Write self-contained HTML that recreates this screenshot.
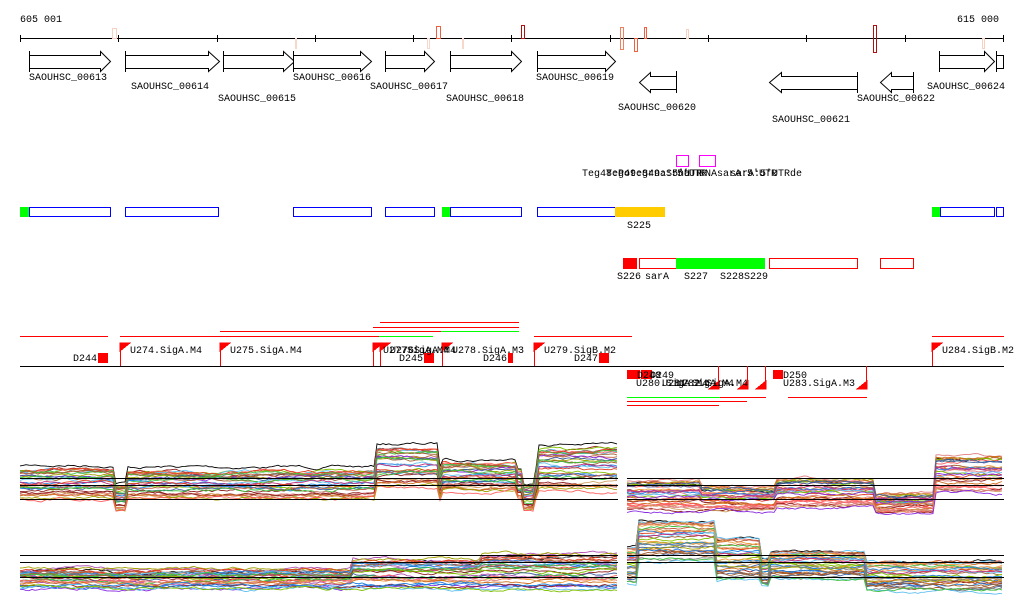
<!DOCTYPE html>
<html><head><meta charset="utf-8"><style>
html,body{margin:0;padding:0;background:#fff;}
svg{display:block;}
text{font-family:"Liberation Mono",monospace;font-size:10px;fill:#000;}
</style></head><body>
<svg id="s" width="1024" height="611" xmlns="http://www.w3.org/2000/svg" shape-rendering="crispEdges">
<text x="20" y="22">605 001</text>
<text x="957" y="22">615 000</text>
<line x1="20" y1="38.5" x2="1004" y2="38.5" stroke="#000"/>
<g stroke="#000">
<line x1="20.5" y1="35" x2="20.5" y2="42"/><line x1="118.5" y1="35" x2="118.5" y2="42"/><line x1="217.5" y1="35" x2="217.5" y2="42"/><line x1="315.5" y1="35" x2="315.5" y2="42"/><line x1="413.5" y1="35" x2="413.5" y2="42"/><line x1="511.5" y1="35" x2="511.5" y2="42"/><line x1="610.5" y1="35" x2="610.5" y2="42"/><line x1="708.5" y1="35" x2="708.5" y2="42"/><line x1="806.5" y1="35" x2="806.5" y2="42"/><line x1="905.5" y1="35" x2="905.5" y2="42"/><line x1="1003.5" y1="35" x2="1003.5" y2="42"/>
</g>
<g fill="none">
<rect x="112.5" y="28.5" width="4" height="10" stroke="#f8d0c0"/>
<rect x="295.5" y="38.5" width="1" height="10" stroke="#f8d8cc"/>
<rect x="427.5" y="38.5" width="2" height="10" stroke="#f8d8cc"/>
<rect x="436.5" y="26.5" width="4" height="12" stroke="#f06040"/>
<rect x="462.5" y="38.5" width="1" height="10" stroke="#f8d8cc"/>
<rect x="521.5" y="25.5" width="3" height="13" stroke="#b01010"/>
<rect x="620.5" y="27.5" width="3" height="22" stroke="#f08060"/>
<rect x="634.5" y="38.5" width="3" height="13" stroke="#f06040"/>
<rect x="644.5" y="27.5" width="2" height="11" stroke="#f06040"/>
<rect x="686.5" y="29.5" width="2" height="9" stroke="#f8d0c0"/>
<rect x="873.5" y="25.5" width="3" height="27" stroke="#b01010"/>
<rect x="982.5" y="38.5" width="2" height="10" stroke="#f8d0c0"/>
</g>
<g fill="#fff" stroke="#000" shape-rendering="auto">
<path d="M29.5 51V72M29.5 55.5H100.5V51.5L110.5 61.5L100.5 71.5V68.5H29.5Z"/>
<path d="M125.5 51V72M125.5 55.5H208.5V51.5L219.5 61.5L208.5 71.5V68.5H125.5Z"/>
<path d="M223.5 51V72M223.5 55.5H283.5V51.5L294.5 61.5L283.5 71.5V68.5H223.5Z"/>
<path d="M293.5 51V72M293.5 55.5H360.5V51.5L371.5 61.5L360.5 71.5V68.5H293.5Z"/>
<path d="M385.5 51V72M385.5 55.5H424.5V51.5L434.5 61.5L424.5 71.5V68.5H385.5Z"/>
<path d="M450.5 51V72M450.5 55.5H511.5V51.5L521.5 61.5L511.5 71.5V68.5H450.5Z"/>
<path d="M537.5 51V72M537.5 55.5H605.5V51.5L615.5 61.5L605.5 71.5V68.5H537.5Z"/>
<path d="M676.5 71V93M676.5 76.5H650.5V72.5L639.5 82.5L650.5 92.5V89.5H676.5Z"/>
<path d="M857.5 72V93M857.5 76.5H781.5V72.5L769.5 82.5L781.5 92.5V89.5H857.5Z"/>
<path d="M913.5 72V93M913.5 76.5H891.5V72.5L880.5 82.5L891.5 92.5V89.5H913.5Z"/>
<path d="M939.5 51V72M939.5 55.5H984.5V51.5L994.5 61.5L984.5 71.5V68.5H939.5Z"/>
<path d="M996.5 51V72M996.5 55.5H1003.5V68.5H996.5"/>
</g>
<text x="29" y="80">SAOUHSC_00613</text>
<text x="131" y="89">SAOUHSC_00614</text>
<text x="218" y="101">SAOUHSC_00615</text>
<text x="293" y="80">SAOUHSC_00616</text>
<text x="370" y="89">SAOUHSC_00617</text>
<text x="446" y="101">SAOUHSC_00618</text>
<text x="536" y="80">SAOUHSC_00619</text>
<text x="618" y="110">SAOUHSC_00620</text>
<text x="772" y="122">SAOUHSC_00621</text>
<text x="857" y="101">SAOUHSC_00622</text>
<text x="927" y="89">SAOUHSC_00624</text>
<rect x="676.5" y="155.5" width="12" height="11" fill="none" stroke="#f0f"/>
<rect x="699.5" y="155.5" width="16" height="11" fill="none" stroke="#f0f"/>
<text x="582" y="176">Teg48:Poteg49:Srna</text>
<text x="606" y="176">Teg49:Srna:5'UTR</text>
<text x="677" y="176">5'UTR</text>
<text x="699" y="176">RNAsarA:5'UTR</text>
<text x="730" y="176">sarA:5'UTRde</text>
<rect x="20" y="207" width="9" height="10" fill="#0f0"/>
<g fill="none" stroke="#00f">
<rect x="29.5" y="207.5" width="81" height="9"/>
<rect x="125.5" y="207.5" width="93" height="9"/>
<rect x="293.5" y="207.5" width="78" height="9"/>
<rect x="385.5" y="207.5" width="49" height="9"/>
<rect x="450.5" y="207.5" width="71" height="9"/>
<rect x="537.5" y="207.5" width="78" height="9"/>
<rect x="940.5" y="207.5" width="54" height="9"/>
<rect x="996.5" y="207.5" width="7" height="9"/>
</g>
<rect x="442" y="207" width="8" height="10" fill="#0f0"/>
<rect x="615" y="207" width="50" height="10" fill="#fc0"/>
<rect x="932" y="207" width="8" height="10" fill="#0f0"/>
<text x="627" y="228">S225</text>
<rect x="623" y="258" width="14" height="11" fill="#f00"/>
<g fill="none" stroke="#f00">
<rect x="639.5" y="258.5" width="37" height="10"/>
<rect x="769.5" y="258.5" width="88" height="10"/>
<rect x="880.5" y="258.5" width="33" height="10"/>
</g>
<rect x="676" y="258" width="89" height="11" fill="#0f0"/>
<text x="617" y="279">S226</text><text x="645" y="279">sarA</text><text x="684" y="279">S227</text><text x="720" y="279">S228S229</text>
<g stroke="#f00">
<line x1="380" y1="322.5" x2="519" y2="322.5"/>
<line x1="373" y1="327.5" x2="519" y2="327.5"/>
<line x1="220" y1="331.5" x2="441" y2="331.5"/>
<line x1="20" y1="336.5" x2="108" y2="336.5"/>
<line x1="120" y1="336.5" x2="379" y2="336.5"/>
<line x1="534" y1="336.5" x2="632" y2="336.5"/>
<line x1="932" y1="336.5" x2="1004" y2="336.5"/>
</g>
<g stroke="#0f0">
<line x1="441" y1="331.5" x2="519" y2="331.5"/>
<line x1="379" y1="336.5" x2="433" y2="336.5"/>
</g>
<line x1="20" y1="366.5" x2="1004" y2="366.5" stroke="#000"/>
<g fill="#f00" stroke="#f00">
<line x1="120.5" y1="343" x2="120.5" y2="366"/><path d="M120 343H130L120 351Z"/>
<line x1="220.5" y1="343" x2="220.5" y2="366"/><path d="M220 343H230L220 351Z"/>
<line x1="373.5" y1="343" x2="373.5" y2="366"/><path d="M373 343H383L373 351Z"/>
<line x1="380.5" y1="343" x2="380.5" y2="366"/><path d="M380 343H390L380 351Z"/>
<line x1="442.5" y1="343" x2="442.5" y2="366"/><path d="M442 343H452L442 351Z"/>
<line x1="534.5" y1="343" x2="534.5" y2="366"/><path d="M534 343H544L534 351Z"/>
<line x1="932.5" y1="343" x2="932.5" y2="366"/><path d="M932 343H942L932 351Z"/>
<line x1="718.5" y1="366" x2="718.5" y2="389"/><path d="M719 389H709L719 381Z"/>
<line x1="747.5" y1="366" x2="747.5" y2="389"/><path d="M748 389H738L748 381Z"/>
<line x1="765.5" y1="366" x2="765.5" y2="389"/><path d="M766 389H756L766 381Z"/>
<line x1="866.5" y1="366" x2="866.5" y2="389"/><path d="M867 389H857L867 381Z"/>
</g>
<g fill="#f00">
<rect x="98" y="353" width="10" height="10"/>
<rect x="424" y="353" width="10" height="10"/>
<rect x="508" y="353" width="5" height="10"/>
<rect x="599" y="353" width="10" height="10"/>
<rect x="627" y="370" width="13" height="9"/>
<rect x="641" y="370" width="11" height="9"/>
<rect x="773" y="370" width="10" height="9"/>
</g>
<text x="130" y="353">U274.SigA.M4</text>
<text x="230" y="353">U275.SigA.M4</text>
<text x="383" y="353">U277SigA.M4</text>
<text x="390" y="353">U276SigA.M4</text>
<text x="452" y="353">U278.SigA.M3</text>
<text x="544" y="353">U279.SigB.M2</text>
<text x="942" y="353">U284.SigB.M2</text>
<text x="73" y="361">D244</text>
<text x="399" y="361">D245</text>
<text x="483" y="361">D246</text>
<text x="574" y="361">D247</text>
<text x="637" y="378">D248</text>
<text x="650" y="378">D249</text>
<text x="783" y="378">D250</text>
<text x="636" y="386">U280.SigA.M4</text>
<text x="662" y="386">U281.SigA.M4</text>
<text x="676" y="386">U282.SigA.M4</text>
<text x="783" y="386">U283.SigA.M3</text>
<g stroke="#f00">
<line x1="720" y1="397.5" x2="766" y2="397.5"/>
<line x1="788" y1="397.5" x2="867" y2="397.5"/>
<line x1="627" y1="401.5" x2="747" y2="401.5"/>
<line x1="627" y1="405.5" x2="719" y2="405.5"/>
</g>
<line x1="627" y1="397.5" x2="720" y2="397.5" stroke="#0f0"/>
<g id="plots" shape-rendering="auto"></g>
<g stroke="#000">
<line x1="20" y1="478.5" x2="618" y2="478.5"/><line x1="20" y1="485.5" x2="618" y2="485.5"/><line x1="20" y1="499.5" x2="618" y2="499.5"/>
<line x1="627" y1="478.5" x2="1004" y2="478.5"/><line x1="627" y1="485.5" x2="1004" y2="485.5"/><line x1="627" y1="499.5" x2="1004" y2="499.5"/>
<line x1="20" y1="555.5" x2="618" y2="555.5"/><line x1="20" y1="562.5" x2="618" y2="562.5"/><line x1="20" y1="577.5" x2="618" y2="577.5"/>
<line x1="627" y1="555.5" x2="1004" y2="555.5"/><line x1="627" y1="562.5" x2="1004" y2="562.5"/><line x1="627" y1="577.5" x2="1004" y2="577.5"/>
</g>
</svg>
<script>
(function(){
var cols=["#e04020","#d07020","#8a2be2","#2080e0","#60c0f0","#40c040","#a0a000","#c03080","#808080","#e08080","#f0a040","#902020","#c06040","#7fbf00","#b050b0","#4060a0","#d0a060","#ff6060","#a06030"];
var seed=7;function r(){seed=(seed*16807)%2147483647;return seed/2147483647;}
var panels=[
 {x0:20,x1:617,seg:[[20,114,468,500],[114,126,485,512],[126,375,470,500],[375,437,447,488],[437,440,470,500],[440,516,462,492],[516,523,470,500],[523,534,485,512],[534,537,470,500],[537,617,447,492]]},
 {x0:627,x1:1004,seg:[[627,700,482,512],[700,774,488,512],[774,875,480,508],[875,935,495,514],[935,1004,457,494]]},
 {x0:20,x1:617,seg:[[20,350,570,590],[350,480,560,590],[480,617,555,592]]},
 {x0:627,x1:1004,seg:[[627,637,548,585],[637,716,523,562],[716,760,540,582],[760,770,560,588],[770,866,553,580],[866,1004,563,592]]}
];
var g=document.getElementById("plots"),ns="http://www.w3.org/2000/svg";
panels.forEach(function(p){
 var N=32;
 for(var i=0;i<N;i++){
  var f=i/(N-1),d="",w=0,off=(r()-0.5)*6;
  for(var x=p.x0;x<=p.x1;x+=3){
   var s=p.seg[0];for(var k=0;k<p.seg.length;k++){if(x>=p.seg[k][0]&&x<=p.seg[k][1]){s=p.seg[k];break;}}
   w+=(r()-0.5)*2.5; w*=0.88;
   var y=s[2]+Math.pow(f,1.3)*(s[3]-s[2])+w+off;
   d+=(x==p.x0?"M":"L")+x+" "+y.toFixed(1);
  }
  var pa=document.createElementNS(ns,"path");
  pa.setAttribute("d",d);pa.setAttribute("fill","none");
  pa.setAttribute("stroke",i==0?"#000":cols[Math.floor(r()*cols.length)]);
  pa.setAttribute("stroke-width","0.9");
  g.appendChild(pa);
 }
});
})();
</script>
</body></html>
